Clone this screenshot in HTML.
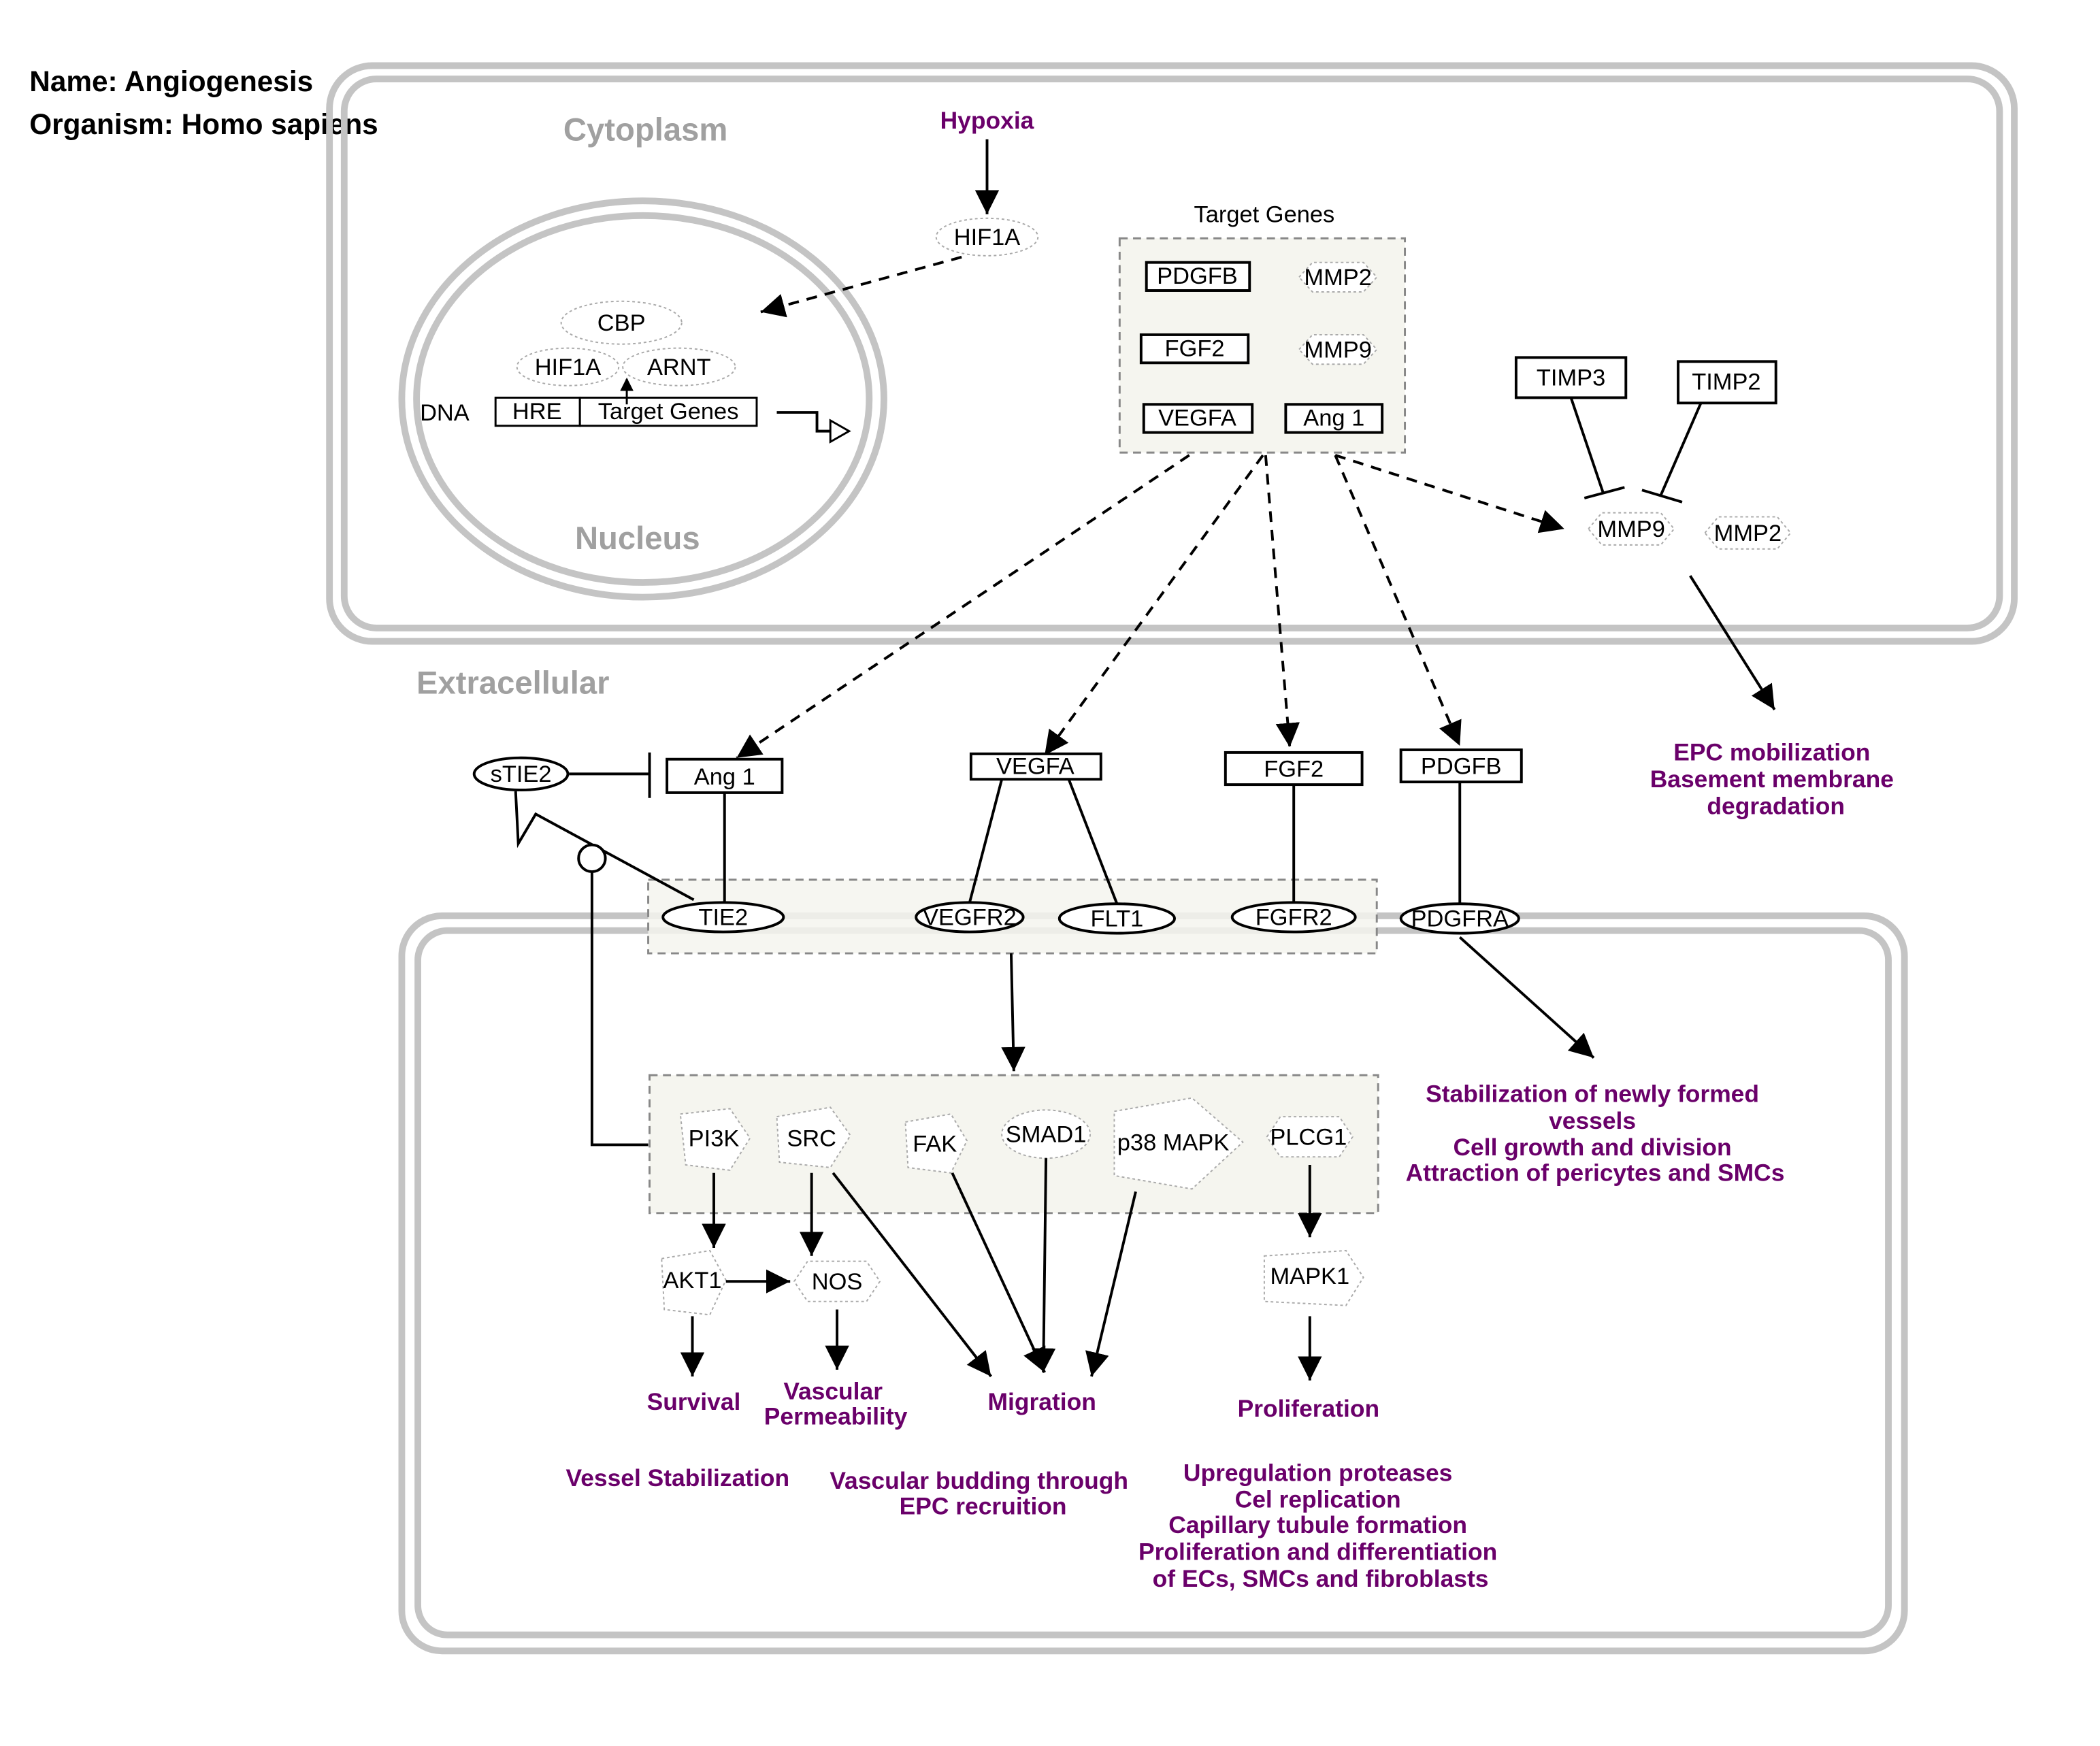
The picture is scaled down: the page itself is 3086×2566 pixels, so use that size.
<!DOCTYPE html>
<html><head><meta charset="utf-8"><style>
html,body{margin:0;padding:0;background:#fff;}
svg{display:block;}
text{font-family:"Liberation Sans",Arial,sans-serif;}
.n{font-size:17.5px;fill:#000;text-anchor:middle;}
.p{font-size:18px;fill:#6a006a;font-weight:bold;text-anchor:middle;}
.g{font-size:24px;fill:#a0a0a0;font-weight:bold;text-anchor:middle;}
.box{fill:#fff;stroke:#000;stroke-width:2;}
.ell{fill:#fff;stroke:#000;stroke-width:2;}
.dot{fill:#fff;stroke:#aaa;stroke-width:1;stroke-dasharray:2 2;}
.ln{stroke:#000;stroke-width:2;fill:none;}
.ds{stroke:#000;stroke-width:2;fill:none;stroke-dasharray:8 6;}
.cell{fill:none;stroke:#c4c4c4;stroke-width:5;}
</style></head><body>
<svg width="3086" height="2566" viewBox="0 0 1568 1304" preserveAspectRatio="none" xmlns="http://www.w3.org/2000/svg">
<defs>
<marker id="a" markerWidth="10" markerHeight="10" refX="9" refY="5" orient="auto" markerUnits="userSpaceOnUse" viewBox="0 0 10 10"><path d="M0,0 L10,5 L0,10 z" fill="#000"/></marker>
<marker id="A" markerWidth="20" markerHeight="18" refX="18" refY="9" orient="auto" markerUnits="userSpaceOnUse"><path d="M0,0 L18,9 L0,18 z" fill="#000"/></marker>
</defs>
<rect width="1568" height="1304" fill="#fff"/>
<text x="22" y="68" style="font-size:21.5px;font-weight:bold">Name: Angiogenesis</text>
<text x="22" y="100" style="font-size:21.5px;font-weight:bold">Organism: Homo sapiens</text>

<!-- cytoplasm -->
<rect x="246" y="49" width="1258" height="430" rx="32" class="cell"/>
<rect x="257" y="59" width="1236" height="410" rx="24" class="cell"/>
<text x="482" y="105" class="g">Cytoplasm</text>
<ellipse cx="480" cy="298" rx="180" ry="148" class="cell"/>
<ellipse cx="480" cy="298" rx="169" ry="137" class="cell"/>
<text x="476" y="410" class="g">Nucleus</text>

<text x="737" y="96" class="p">Hypoxia</text>
<line x1="737" y1="104" x2="737" y2="160" class="ln" marker-end="url(#A)"/>
<ellipse cx="737" cy="177" rx="38" ry="14" class="dot"/><text x="737" y="183" class="n">HIF1A</text>
<line x1="718" y1="192" x2="568" y2="233" class="ds" marker-end="url(#A)"/>

<ellipse cx="464" cy="241" rx="45" ry="16" class="dot"/><text x="464" y="247" class="n">CBP</text>
<ellipse cx="424" cy="274" rx="38" ry="14" class="dot"/><text x="424" y="280" class="n">HIF1A</text>
<ellipse cx="507" cy="274" rx="42" ry="14" class="dot"/><text x="507" y="280" class="n">ARNT</text>
<text x="332" y="314" class="n">DNA</text>
<rect x="370" y="297" width="63" height="21" fill="#fff" stroke="#000" stroke-width="1.5"/><text x="401" y="313" class="n">HRE</text>
<rect x="433" y="297" width="132" height="21" fill="#fff" stroke="#000" stroke-width="1.5"/><text x="499" y="313" class="n">Target Genes</text>
<line x1="468" y1="302" x2="468" y2="283" stroke="#000" stroke-width="1.5" marker-end="url(#a)"/>
<polyline points="580,308 610,308 610,322 620,322" class="ln"/>
<path d="M620,314 L634,322 L620,330 z" fill="#fff" stroke="#000" stroke-width="1.5"/>

<text x="944" y="166" class="n">Target Genes</text>
<rect x="836" y="178" width="213" height="160" fill="#f5f5ef" stroke="#888" stroke-width="1.5" stroke-dasharray="6 4"/>
<rect x="856" y="196" width="77" height="21" class="box"/><text x="894" y="212" class="n">PDGFB</text>
<polygon points="970,207 980,196 1018,196 1028,207 1018,218 980,218" class="dot"/><text x="999" y="213" class="n">MMP2</text>
<rect x="852" y="250" width="80" height="21" class="box"/><text x="892" y="266" class="n">FGF2</text>
<polygon points="970,261 980,250 1018,250 1028,261 1018,272 980,272" class="dot"/><text x="999" y="267" class="n">MMP9</text>
<rect x="854" y="302" width="81" height="21" class="box"/><text x="894" y="318" class="n">VEGFA</text>
<rect x="960" y="302" width="72" height="21" class="box"/><text x="996" y="318" class="n">Ang 1</text>

<rect x="1132" y="267" width="82" height="30" class="box"/><text x="1173" y="288" class="n">TIMP3</text>
<rect x="1253" y="270" width="73" height="31" class="box"/><text x="1289" y="291" class="n">TIMP2</text>
<line x1="1173" y1="297" x2="1197" y2="368" class="ln"/><line x1="1183" y1="372" x2="1213" y2="364" class="ln"/>
<line x1="1270" y1="301" x2="1240" y2="370" class="ln"/><line x1="1226" y1="366" x2="1256" y2="375" class="ln"/>
<polygon points="1186,395 1196,383 1240,383 1250,395 1240,407 1196,407" class="dot"/><text x="1218" y="401" class="n">MMP9</text>
<polygon points="1273,398 1283,386 1327,386 1337,398 1327,410 1283,410" class="dot"/><text x="1305" y="404" class="n">MMP2</text>
<line x1="997" y1="340" x2="1168" y2="395" class="ds" marker-end="url(#A)"/>
<line x1="1262" y1="430" x2="1325" y2="530" class="ln" marker-end="url(#A)"/>
<text x="1323" y="568" class="p">EPC mobilization</text>
<text x="1323" y="588" class="p">Basement membrane</text>
<text x="1326" y="608" class="p">degradation</text>

<text x="383" y="518" class="g">Extracellular</text>
<line x1="888" y1="340" x2="550" y2="566" class="ds" marker-end="url(#A)"/>
<line x1="943" y1="340" x2="780" y2="564" class="ds" marker-end="url(#A)"/>
<line x1="945" y1="340" x2="963" y2="558" class="ds" marker-end="url(#A)"/>
<line x1="997" y1="340" x2="1090" y2="557" class="ds" marker-end="url(#A)"/>

<!-- lower cell -->
<rect x="300" y="684" width="1122" height="549" rx="30" class="cell"/>
<rect x="312" y="695" width="1098" height="526" rx="22" class="cell"/>
<rect x="484" y="657" width="544" height="55" fill="#f5f5ef" fill-opacity="0.85" stroke="#888" stroke-width="1.5" stroke-dasharray="6 4"/>

<ellipse cx="389" cy="578" rx="35" ry="12" class="ell"/><text x="389" y="584" class="n">sTIE2</text>
<line x1="425" y1="578" x2="485" y2="578" class="ln"/><line x1="485" y1="562" x2="485" y2="596" class="ln"/>
<rect x="498" y="567" width="86" height="25" class="box"/><text x="541" y="586" class="n">Ang 1</text>
<rect x="725" y="563" width="97" height="19" class="box"/><text x="773" y="578" class="n">VEGFA</text>
<rect x="915" y="562" width="102" height="24" class="box"/><text x="966" y="580" class="n">FGF2</text>
<rect x="1046" y="560" width="90" height="24" class="box"/><text x="1091" y="578" class="n">PDGFB</text>

<polyline points="385,591 387,630 400,608 518,672" class="ln"/>
<circle cx="442" cy="641" r="10" fill="#fff" stroke="#000" stroke-width="2"/>
<polyline points="442,651 442,855 484,855" class="ln"/>

<line x1="541" y1="592" x2="541" y2="674" class="ln"/>
<line x1="748" y1="582" x2="724" y2="674" class="ln"/>
<line x1="798" y1="582" x2="834" y2="675" class="ln"/>
<line x1="966" y1="586" x2="966" y2="674" class="ln"/>
<line x1="1090" y1="584" x2="1090" y2="675" class="ln"/>

<ellipse cx="540" cy="685" rx="45" ry="11" class="ell"/><text x="540" y="691" class="n">TIE2</text>
<ellipse cx="724" cy="685" rx="40" ry="11" class="ell"/><text x="724" y="691" class="n">VEGFR2</text>
<ellipse cx="834" cy="686" rx="43" ry="11" class="ell"/><text x="834" y="692" class="n">FLT1</text>
<ellipse cx="966" cy="685" rx="46" ry="11" class="ell"/><text x="966" y="691" class="n">FGFR2</text>
<ellipse cx="1090" cy="686" rx="44" ry="11" class="ell"/><text x="1090" y="692" class="n">PDGFRA</text>

<line x1="1090" y1="700" x2="1190" y2="790" class="ln" marker-end="url(#A)"/>
<text x="1189" y="823" class="p">Stabilization of newly formed</text>
<text x="1189" y="843" class="p">vessels</text>
<text x="1189" y="863" class="p">Cell growth and division</text>
<text x="1191" y="882" class="p">Attraction of pericytes and SMCs</text>

<line x1="755" y1="712" x2="757" y2="800" class="ln" marker-end="url(#A)"/>
<rect x="485" y="803" width="544" height="103" fill="#f5f5ef" stroke="#888" stroke-width="1.5" stroke-dasharray="6 4"/>

<polygon points="508,832 545,828 560,850 545,874 512,870" class="dot"/><text x="533" y="856" class="n">PI3K</text>
<polygon points="580,834 620,827 635,848 620,872 582,868" class="dot"/><text x="606" y="856" class="n">SRC</text>
<polygon points="676,838 710,832 722,852 710,876 678,872" class="dot"/><text x="698" y="860" class="n">FAK</text>
<ellipse cx="781" cy="847" rx="33" ry="18" class="dot"/><text x="781" y="853" class="n">SMAD1</text>
<polygon points="832,830 890,820 928,853 890,888 832,878" class="dot"/><text x="876" y="859" class="n">p38 MAPK</text>
<polygon points="946,849 956,834 1000,834 1010,849 1000,864 956,864" class="dot"/><text x="977" y="855" class="n">PLCG1</text>
<polygon points="494,940 530,934 542,956 530,982 496,978" class="dot"/><text x="517" y="962" class="n">AKT1</text>
<polygon points="593,957 603,942 647,942 657,957 647,972 603,972" class="dot"/><text x="625" y="963" class="n">NOS</text>
<polygon points="944,938 1005,934 1018,954 1005,975 944,972" class="dot"/><text x="978" y="959" class="n">MAPK1</text>

<line x1="533" y1="876" x2="533" y2="932" class="ln" marker-end="url(#A)"/>
<line x1="606" y1="876" x2="606" y2="938" class="ln" marker-end="url(#A)"/>
<line x1="542" y1="957" x2="590" y2="957" class="ln" marker-end="url(#A)"/>
<line x1="517" y1="983" x2="517" y2="1028" class="ln" marker-end="url(#A)"/>
<line x1="625" y1="978" x2="625" y2="1023" class="ln" marker-end="url(#A)"/>
<line x1="622" y1="876" x2="740" y2="1028" class="ln" marker-end="url(#A)"/>
<line x1="711" y1="876" x2="780" y2="1025" class="ln" marker-end="url(#A)"/>
<line x1="781" y1="865" x2="779" y2="1025" class="ln" marker-end="url(#A)"/>
<line x1="848" y1="890" x2="815" y2="1028" class="ln" marker-end="url(#A)"/>
<line x1="978" y1="870" x2="978" y2="924" class="ln" marker-end="url(#A)"/>
<line x1="978" y1="983" x2="978" y2="1031" class="ln" marker-end="url(#A)"/>

<text x="518" y="1053" class="p">Survival</text>
<text x="622" y="1045" class="p">Vascular</text>
<text x="624" y="1064" class="p">Permeability</text>
<text x="778" y="1053" class="p">Migration</text>
<text x="977" y="1058" class="p">Proliferation</text>
<text x="506" y="1110" class="p">Vessel Stabilization</text>
<text x="731" y="1112" class="p">Vascular budding through</text>
<text x="734" y="1131" class="p">EPC recruition</text>
<text x="984" y="1106" class="p">Upregulation proteases</text>
<text x="984" y="1126" class="p">Cel replication</text>
<text x="984" y="1145" class="p">Capillary tubule formation</text>
<text x="984" y="1165" class="p">Proliferation and differentiation</text>
<text x="986" y="1185" class="p">of ECs, SMCs and fibroblasts</text>
</svg>
</body></html>
